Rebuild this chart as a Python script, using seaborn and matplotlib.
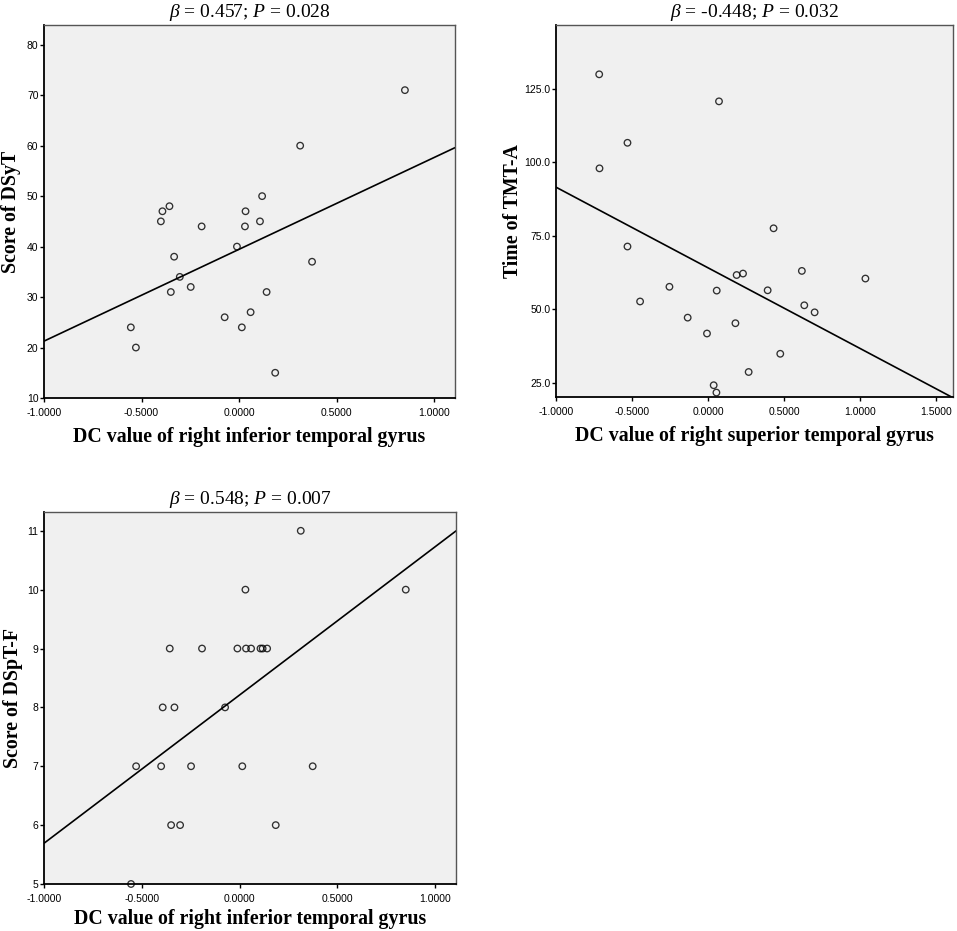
import numpy as np
import pandas as pd
import seaborn as sns
import matplotlib.pyplot as plt
from matplotlib.ticker import FormatStrFormatter, MultipleLocator

# DC value of right inferior temporal gyrus (same subjects in panels A and C)
itg_dc = [-0.555, -0.529, -0.401, -0.393, -0.357, -0.333, -0.350, -0.304,
          -0.248, -0.192, -0.074, -0.011, 0.014, 0.030, 0.033, 0.059,
          0.107, 0.118, 0.141, 0.185, 0.313, 0.374, 0.850]
dsyt = [24, 20, 45, 47, 48, 38, 31, 34, 32, 44, 26, 40, 24, 44, 47, 27,
        45, 50, 31, 15, 60, 37, 71]
dspt_f = [5, 7, 7, 8, 9, 8, 6, 6, 7, 9, 8, 9, 7, 10, 9, 9,
          9, 9, 9, 6, 11, 7, 10]

# DC value of right superior temporal gyrus vs TMT-A time
stg_dc = [-0.716, -0.530, -0.714, -0.530, -0.447, -0.254, -0.134, -0.007,
          0.037, 0.055, 0.057, 0.072, 0.180, 0.188, 0.230, 0.267, 0.392,
          0.431, 0.475, 0.617, 0.633, 0.701, 1.035]
tmt_a = [130.0, 106.7, 98.0, 71.4, 52.7, 57.7, 47.2, 41.8, 24.2, 21.7,
         56.4, 120.8, 45.3, 61.7, 62.2, 28.7, 56.5, 77.6, 34.9, 63.1,
         51.4, 49.0, 60.5]

titles = ["$\\beta$ = 0.457; $P$ = 0.028",
          "$\\beta$ = -0.448; $P$ = 0.032",
          "$\\beta$ = 0.548; $P$ = 0.007"]

df1 = pd.DataFrame({"dc": itg_dc, "score": dsyt})
df2 = pd.DataFrame({"dc": stg_dc, "score": tmt_a})
df3 = pd.DataFrame({"dc": itg_dc, "score": dspt_f})

sns.set_style("ticks")
plt.rcParams["font.family"] = ["Liberation Sans", "DejaVu Sans"]
plt.rcParams["text.color"] = "black"
plt.rcParams["axes.labelcolor"] = "black"
plt.rcParams["mathtext.fontset"] = "custom"
plt.rcParams["mathtext.rm"] = "Liberation Serif"
plt.rcParams["mathtext.it"] = "Liberation Serif:italic"

fig = plt.figure(figsize=(9.57, 9.31), dpi=100)
ax1 = fig.add_axes([0.046, 0.5725, 0.4295, 0.4006])
ax2 = fig.add_axes([0.581, 0.5736, 0.4148, 0.3996])
ax3 = fig.add_axes([0.046, 0.0505, 0.4305, 0.3996])

panels = [
    (ax1, df1, (-1.0, 1.107), (10, 83.9), 10, "%d", "Score of DSyT",
     "DC value of right inferior temporal gyrus", -0.056, 7),
    (ax2, df2, (-1.0, 1.611), (20.2, 146.8), 25, "%.1f", "Time of TMT-A",
     "DC value of right superior temporal gyrus", -0.082, 7),
    (ax3, df3, (-1.0, 1.107), (5, 11.32), 1, "%d", "Score of DSpT-F",
     "DC value of right inferior temporal gyrus", -0.051, 3.5),
]

for (ax, d, xl, yl, ystep, yfmt, ylab, xlab, ylx, xpad), title in zip(panels, titles):
    ax.set_facecolor("#f0f0f0")
    ax.set_xlim(xl)
    ax.set_ylim(yl)
    sns.regplot(data=d, x="dc", y="score", ax=ax, ci=None, truncate=False,
                scatter_kws=dict(s=22, facecolors="none", edgecolors="black",
                                 linewidths=0.95, clip_on=False, zorder=3),
                line_kws=dict(color="black", lw=1.2))
    ax.set_xlim(xl)
    ax.set_ylim(yl)
    ax.xaxis.set_major_locator(MultipleLocator(0.5))
    ax.xaxis.set_major_formatter(FormatStrFormatter("%.4f"))
    ax.yaxis.set_major_locator(MultipleLocator(ystep))
    ax.yaxis.set_major_formatter(FormatStrFormatter(yfmt))
    ax.tick_params(labelsize=7.5, length=3, width=1, pad=1, colors="black")
    ax.tick_params(axis="x", pad=4)
    for side in ["left", "bottom"]:
        ax.spines[side].set_color("black")
        ax.spines[side].set_linewidth(1.3)
    for side in ["top", "right"]:
        ax.spines[side].set_visible(True)
        ax.spines[side].set_color("#555555")
        ax.spines[side].set_linewidth(1.0)
    ax.set_title(title, family="Liberation Serif", fontsize=14, pad=6,
                 color="black")
    ax.set_xlabel(xlab, family="Liberation Serif", fontsize=14.3,
                  fontweight="bold", labelpad=xpad, color="black")
    ax.set_ylabel(ylab, family="Liberation Serif", fontsize=14.3,
                  fontweight="bold", color="black")
    ax.yaxis.set_label_coords(ylx, 0.5)

fig.savefig("out.png", dpi=100)
